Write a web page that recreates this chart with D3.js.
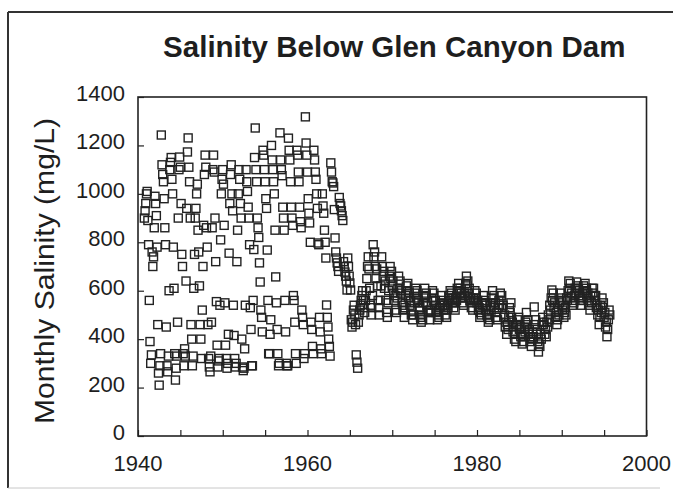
<!DOCTYPE html>
<html>
<head>
<meta charset="utf-8">
<script src="https://cdn.jsdelivr.net/npm/d3@7"></script>
<style>
  body { margin: 0; background: #fff; }
  svg { display: block; }
  text { font-family: "Liberation Sans", Arial, Helvetica, sans-serif; fill: #1e1e1e; }
</style>
</head>
<body>
<svg id="chart"></svg>
<script>
// monthly salinity (mg/L), water years Oct -> Sep
var wy1941_1950 = [
    900, 930, 960, 1000, 1010, 890, 790, 560, 390, 300, 335, 760,
    700, 740, 860, 990, 960, 910, 780, 460, 260, 210, 290, 340,
    1243, 1120, 1080, 1050, 980, 860, 790, 450, 290, 265, 330, 600,
    1100, 1130, 1150, 1060, 1000, 780, 610, 340, 231, 280, 330, 470,
    900, 1100, 1152, 1110, 960, 750, 700, 340, 290, 360, 330, 640,
    940, 1173, 1231, 1110, 1050, 900, 460, 400, 290, 330, 610, 750,
    900, 940, 1000, 1040, 850, 760, 620, 460, 400, 320, 520, 700,
    870, 1080, 1160, 1110, 860, 780, 460, 320, 285, 265, 330, 470,
    860, 1100, 1160, 1090, 900, 720, 555, 375, 285, 310, 320, 540,
    810, 1000, 1060, 1100, 1040, 870, 550, 375, 320, 280, 300, 420
]
var wy1951_1960 = [
    755, 960, 1080, 1120, 1000, 930, 540, 415, 320, 285, 300, 720,
    850, 1000, 1100, 1060, 960, 900, 400, 285, 270, 280, 360, 540,
    1100, 1050, 1010, 945, 900, 790, 530, 440, 290, 290, 560, 770,
    1150, 1272, 1100, 1050, 900, 860, 820, 715, 636, 520, 490, 430,
    1180, 1160, 1100, 1050, 980, 940, 768, 560, 340, 340, 420, 480,
    1200, 1140, 1100, 1050, 1000, 850, 657, 550, 440, 340, 290, 300,
    1252, 1140, 1100, 1075, 945, 900, 850, 560, 430, 300, 290, 290,
    1230, 1180, 1140, 1050, 945, 900, 870, 580, 560, 470, 340, 300,
    1180, 1160, 1090, 1050, 945, 885, 860, 520, 490, 460, 320, 340,
    1318, 1210, 1160, 1090, 980, 920, 880, 800, 470, 440, 370, 340
]
var wy1961_1970 = [
    1180, 1140, 1090, 1060, 1000, 940, 797, 790, 490, 430, 360, 340,
    1000, 950, 920, 850, 800, 735, 541, 490, 450, 400, 370, 330,
    1128, 1090, 1050, 1045, 1030, 935, 818, 760, 735, 715, 700, 680,
    985, 960, 950, 930, 910, 890, 720, 700, 677, 660, 640, 603,
    735, 700, 660, 632, 603, 480, 450, 470, 520, 540, 500, 460,
    335, 305, 280, 470, 500, 520, 540, 560, 580, 600, 560, 530,
    510, 560, 600, 650, 700, 740, 690, 610, 540, 500, 530, 580,
    790, 740, 760, 700, 650, 690, 620, 560, 530, 500, 560, 620,
    740, 700, 660, 680, 610, 640, 560, 510, 490, 550, 600, 660,
    700, 650, 680, 620, 640, 590, 560, 580, 520, 510, 570, 610
]
var wy1971_1980 = [
    660, 610, 640, 590, 600, 550, 520, 540, 490, 530, 580, 620,
    600, 630, 570, 590, 540, 560, 500, 520, 480, 500, 550, 590,
    610, 570, 600, 550, 560, 520, 530, 490, 470, 500, 480, 550,
    570, 610, 580, 590, 540, 550, 510, 520, 480, 520, 510, 570,
    600, 560, 590, 540, 560, 510, 520, 480, 500, 490, 530, 540,
    550, 580, 540, 560, 520, 540, 500, 520, 490, 540, 530, 580,
    570, 600, 560, 590, 550, 570, 530, 550, 520, 570, 560, 610,
    600, 630, 590, 610, 570, 590, 550, 570, 540, 590, 580, 630,
    660, 620, 640, 590, 610, 560, 570, 530, 550, 520, 570, 560,
    600, 570, 590, 550, 560, 520, 530, 490, 510, 500, 550, 540
]
var wy1981_1995 = [
    580, 550, 560, 520, 540, 500, 490, 470, 500, 480, 540, 520,
    570, 600, 550, 580, 530, 550, 490, 510, 480, 530, 560, 540,
    590, 560, 580, 530, 540, 490, 500, 450, 470, 420, 460, 440,
    490, 530, 510, 550, 490, 470, 430, 450, 400, 420, 390, 460,
    480, 460, 490, 440, 450, 410, 420, 380, 410, 390, 450, 430,
    470, 510, 460, 480, 420, 440, 390, 410, 370, 400, 430, 410,
    533, 460, 480, 420, 440, 390, 347, 380, 370, 420, 400, 460,
    490, 460, 470, 420, 440, 410, 470, 450, 500, 480, 540, 520,
    570, 603, 560, 590, 530, 550, 490, 510, 460, 480, 520, 500,
    550, 590, 560, 570, 520, 540, 490, 510, 530, 500, 570, 560,
    600, 640, 610, 630, 570, 590, 540, 560, 550, 580, 610, 590,
    636, 610, 620, 580, 600, 560, 570, 540, 590, 560, 620, 600,
    630, 600, 610, 570, 590, 540, 560, 520, 580, 550, 610, 590,
    610, 580, 560, 580, 530, 540, 500, 520, 460, 490, 540, 510,
    570, 530, 550, 490, 510, 450, 470, 410, 440, 480, 520, 500
]

var salinity = [].concat(wy1941_1950, wy1951_1960, wy1961_1970, wy1971_1980, wy1981_1995)
var startYear = 1940, startMonth = 9   // October 1940

var xTicks = [1940, 1960, 1980, 2000]
var yTicks = [0, 200, 400, 600, 800, 1000, 1200, 1400]

var width = 673, height = 493
var margin = {left: 138, top: 97, right: 26, bottom: 57}

var svg = d3.select("#chart")
    .attr("width", width)
    .attr("height", height)

// outer frame of the scanned figure
svg.append("line")
    .attr("x1", 8).attr("y1", 12).attr("x2", width).attr("y2", 12)
    .attr("stroke", "#333").attr("stroke-width", 2)
svg.append("line")
    .attr("x1", 8).attr("y1", 12).attr("x2", 8).attr("y2", 488)
    .attr("stroke", "#333").attr("stroke-width", 2)
svg.append("line")
    .attr("x1", 8).attr("y1", 488).attr("x2", 660).attr("y2", 488)
    .attr("stroke", "#c8c8c8").attr("stroke-width", 1)

var x = d3.scaleLinear()
    .domain([1940, 2000])
    .range([margin.left, width - margin.right - 0.5])

var y = d3.scaleLinear()
    .domain([0, 1400])
    .range([height - margin.bottom, margin.top])

svg.append("text")
    .attr("x", (x.range()[0] + x.range()[1]) / 2 + 2)
    .attr("y", 57)
    .attr("text-anchor", "middle")
    .style("font-size", "29.5px")
    .style("font-weight", "bold")
    .text("Salinity Below Glen Canyon Dam")

svg.append("text")
    .attr("transform", "translate(54," + 271 + ") rotate(-90)")
    .attr("text-anchor", "middle")
    .attr("textLength", 306)
    .attr("lengthAdjust", "spacingAndGlyphs")
    .style("font-size", "28px")
    .text("Monthly Salinity (mg/L)")

// y axis: ticks point inward
var yAxis = svg.append("g")
    .attr("transform", "translate(" + margin.left + ",0)")
    .call(d3.axisRight(y).tickValues(yTicks).tickSize(6).tickFormat(""))
yAxis.select(".domain").remove()
yAxis.selectAll("line").attr("stroke", "#222").attr("stroke-width", 1.2)

svg.selectAll(".ylabel")
    .data(yTicks)
    .enter()
    .append("text")
        .attr("class", "ylabel")
        .attr("x", 125)
        .attr("y", d => y(d) + 4)
        .attr("text-anchor", "end")
        .style("font-size", "22px")
        .text(d => d)

// x axis: minor ticks every 5 years, pointing inward
var xAxis = svg.append("g")
    .attr("transform", "translate(0," + y(0) + ")")
    .call(d3.axisTop(x).ticks(12).tickSize(6).tickFormat(""))
xAxis.select(".domain").remove()
xAxis.selectAll("line").attr("stroke", "#222").attr("stroke-width", 1.2)

svg.selectAll(".xlabel")
    .data(xTicks)
    .enter()
    .append("text")
        .attr("class", "xlabel")
        .attr("x", d => x(d))
        .attr("y", 471)
        .attr("text-anchor", "middle")
        .style("font-size", "22px")
        .text(d => d)

// plot frame
svg.append("rect")
    .attr("x", x(1940))
    .attr("y", y(1400))
    .attr("width", x(2000) - x(1940))
    .attr("height", y(0) - y(1400))
    .attr("fill", "none")
    .attr("stroke", "#222")
    .attr("stroke-width", 1.6)

var s = 8
svg.append("g")
    .selectAll("rect")
    .data(salinity)
    .enter()
    .append("rect")
        .attr("x", (d, i) => x(startYear + (startMonth + i) / 12) - s / 2)
        .attr("y", d => y(d) - s / 2)
        .attr("width", s)
        .attr("height", s)
        .attr("fill", "none")
        .attr("stroke", "#222")
        .attr("stroke-width", 1.4)
</script>
</body>
</html>
